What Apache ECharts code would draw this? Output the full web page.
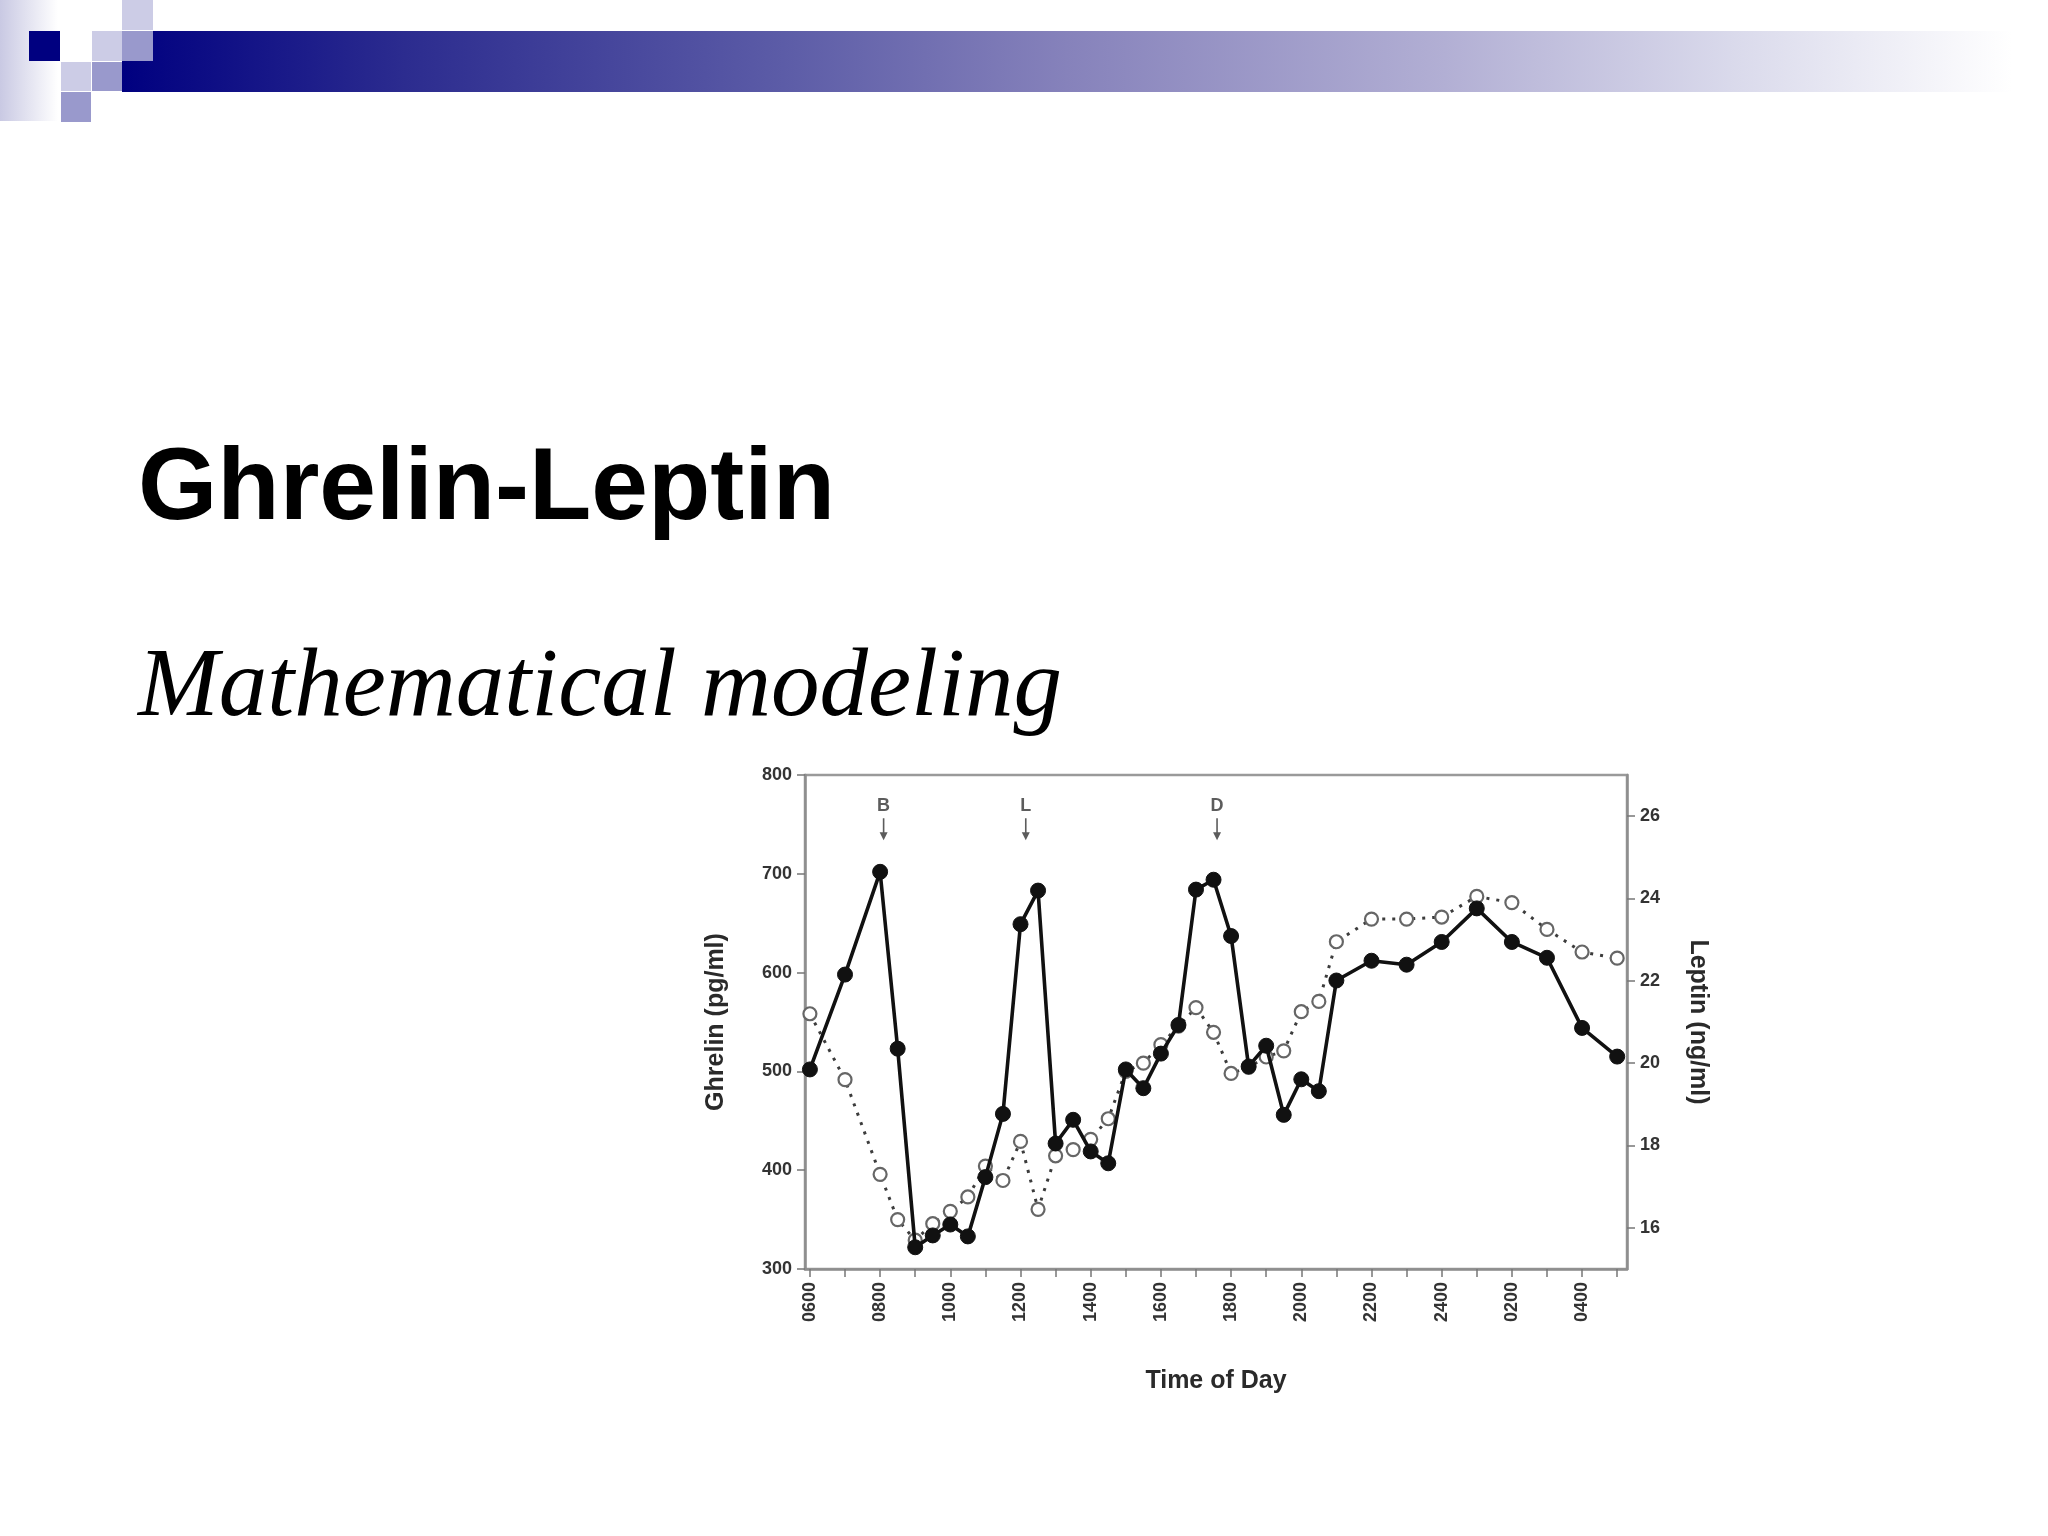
<!DOCTYPE html>
<html>
<head>
<meta charset="utf-8">
<script src="https://cdn.jsdelivr.net/npm/echarts@6/dist/echarts.min.js"></script>
<style>
html,body{margin:0;padding:0;background:#fff;}
#chart{width:2048px;height:1536px;}
</style>
</head>
<body>
<div id="chart"></div>
<script>
// ---- data (hours since midnight of the first day) ----
const timeHours = [6, 7, 8, 8.5, 9, 9.5, 10, 10.5, 11, 11.5, 12, 12.5, 13, 13.5, 14, 14.5, 15, 15.5, 16, 16.5, 17, 17.5, 18, 18.5, 19, 19.5, 20, 20.5, 21, 22, 23, 24, 25, 26, 27, 28, 29];
const ghrelin = [502, 598, 702, 523, 322, 334, 345, 333, 393, 457, 649, 683, 427, 451, 419, 407, 502, 483, 518, 547, 684, 694, 637, 505, 526, 456, 492, 480, 592, 612, 608, 631, 665, 631, 615, 544, 515];
const leptin = [21.2, 19.6, 17.3, 16.2, 15.7, 16.1, 16.4, 16.75, 17.5, 17.15, 18.1, 16.45, 17.75, 17.9, 18.15, 18.65, 19.8, 20.0, 20.45, 20.9, 21.35, 20.75, 19.75, 19.9, 20.15, 20.3, 21.25, 21.5, 22.95, 23.5, 23.5, 23.55, 24.05, 23.9, 23.25, 22.7, 22.55];

const xTickHours = [6, 7, 8, 9, 10, 11, 12, 13, 14, 15, 16, 17, 18, 19, 20, 21, 22, 23, 24, 25, 26, 27, 28, 29];
const xLabelHours = [6, 8, 10, 12, 14, 16, 18, 20, 22, 24, 26, 28];
const xTickLabels = ['0600', '0800', '1000', '1200', '1400', '1600', '1800', '2000', '2200', '2400', '0200', '0400'];
const leptinTicks = [16, 18, 20, 22, 24, 26];

const mealHours = [8.1, 12.15, 17.6];
const mealLabels = ['B', 'L', 'D'];
const mealArrowLevel = 745; // ghrelin units

const chart = echarts.init(document.getElementById('chart'));

const axisGray = '#8e8e8e';
const labelFont = {color: '#333', fontFamily: 'Liberation Sans, Arial, sans-serif', fontWeight: 'bold', fontSize: 18};
const nameFont = {color: '#2a2a2a', fontFamily: 'Liberation Sans, Arial, sans-serif', fontWeight: 'bold', fontSize: 25};

const option = {
  backgroundColor: '#ffffff',
  animation: false,
  graphic: [
    {type: 'rect', shape: {x: 0, y: 0, width: 58, height: 121},
      style: {fill: {type: 'linear', x: 0, y: 0, x2: 1, y2: 0, colorStops: [{offset: 0, color: '#c9c9e3'}, {offset: 1, color: '#ffffff'}]}}},
    {type: 'rect', shape: {x: 122, y: 31, width: 1890, height: 61},
      style: {fill: {type: 'linear', x: 0, y: 0, x2: 1, y2: 0, colorStops: [
        {offset: 0, color: '#000080'}, {offset: 0.15, color: '#2c2c8f'}, {offset: 0.35, color: '#5c5ca7'},
        {offset: 0.5, color: '#8682bb'}, {offset: 0.7, color: '#b2afd4'}, {offset: 0.85, color: '#d9d9eb'}, {offset: 1, color: '#ffffff'}]}}},
    {type: 'rect', shape: {x: 29, y: 31, width: 31, height: 30}, style: {fill: '#000080'}},
    {type: 'rect', shape: {x: 92, y: 31, width: 30, height: 30}, style: {fill: '#ccccE6'}},
    {type: 'rect', shape: {x: 122, y: 0, width: 31, height: 30}, style: {fill: '#ccccE6'}},
    {type: 'rect', shape: {x: 61, y: 62, width: 30, height: 29}, style: {fill: '#ccccE6'}},
    {type: 'rect', shape: {x: 122, y: 31, width: 31, height: 30}, style: {fill: '#9999cc'}},
    {type: 'rect', shape: {x: 92, y: 62, width: 30, height: 29}, style: {fill: '#9999cc'}},
    {type: 'rect', shape: {x: 61, y: 92, width: 30, height: 30}, style: {fill: '#9999cc'}},
    {type: 'text', left: 138, top: 440,
      style: {text: 'Ghrelin-Leptin', fill: '#000', font: 'bold 102px "Liberation Sans", Arial, sans-serif'}},
    {type: 'text', left: 138, top: 641,
      style: {text: 'Mathematical modeling', fill: '#000', font: 'italic 97px "Liberation Serif", "Times New Roman", serif'}}
  ],
  grid: {left: 805, top: 775, right: 421, bottom: 267, show: true, borderColor: '#9a9a9a', borderWidth: 2.5, backgroundColor: 'transparent'},
  xAxis: {
    type: 'value', min: 5.86, max: 29.28,
    name: 'Time of Day', nameLocation: 'middle', nameGap: 100, nameTextStyle: nameFont,
    axisLine: {show: true, lineStyle: {color: axisGray, width: 2.5}},
    axisTick: {show: true, length: 8, customValues: xTickHours, lineStyle: {color: '#777', width: 1.5}},
    axisLabel: Object.assign({rotate: 90, margin: 13, customValues: xLabelHours,
      formatter: function (v) { const i = xLabelHours.indexOf(v); return i >= 0 ? xTickLabels[i] : ''; }}, labelFont),
    splitLine: {show: false}
  },
  yAxis: [
    {
      type: 'value', min: 300, max: 800, interval: 100, position: 'left',
      name: 'Ghrelin (pg/ml)', nameLocation: 'middle', nameGap: 76, nameRotate: 90, nameTextStyle: nameFont,
      axisLine: {show: true, lineStyle: {color: axisGray, width: 2.5}},
      axisTick: {show: true, length: 8, lineStyle: {color: '#777', width: 1.5}},
      axisLabel: Object.assign({margin: 13}, labelFont),
      splitLine: {show: false}
    },
    {
      type: 'value', min: 15, max: 27, position: 'right',
      name: 'Leptin (ng/ml)', nameLocation: 'middle', nameGap: 58, nameRotate: -90, nameTextStyle: nameFont,
      axisLine: {show: true, lineStyle: {color: axisGray, width: 2.5}},
      axisTick: {show: true, length: 8, customValues: leptinTicks, lineStyle: {color: '#777', width: 1.5}},
      axisLabel: Object.assign({margin: 13, customValues: leptinTicks}, labelFont),
      splitLine: {show: false}
    }
  ],
  series: [
    {
      name: 'Leptin', type: 'line', yAxisIndex: 1,
      data: timeHours.map((h, i) => [h, leptin[i]]),
      symbol: 'circle', symbolSize: 13,
      lineStyle: {color: '#3c3c3c', width: 3, type: [3, 7]},
      itemStyle: {color: '#ffffff', borderColor: '#666', borderWidth: 2.2},
      z: 2
    },
    {
      name: 'Ghrelin', type: 'line', yAxisIndex: 0,
      data: timeHours.map((h, i) => [h, ghrelin[i]]),
      symbol: 'circle', symbolSize: 15,
      lineStyle: {color: '#111', width: 3.6},
      itemStyle: {color: '#111', borderColor: '#111', borderWidth: 1},
      z: 3
    },
    {
      name: 'Meals', type: 'scatter', yAxisIndex: 0,
      data: mealHours.map((h, i) => ({value: [h, mealArrowLevel], name: mealLabels[i]})),
      symbol: 'path://M3.3,0 L4.7,0 L4.7,14 L7.5,14 L4,22 L0.5,14 L3.3,14 Z',
      symbolSize: [8, 22],
      itemStyle: {color: '#333'},
      label: {show: true, position: 'top', distance: 3, formatter: p => p.name,
        color: '#333', fontFamily: 'Liberation Sans, Arial, sans-serif', fontWeight: 'bold', fontSize: 18},
      z: 4
    }
  ]
};
chart.setOption(option);
</script>
</body>
</html>
